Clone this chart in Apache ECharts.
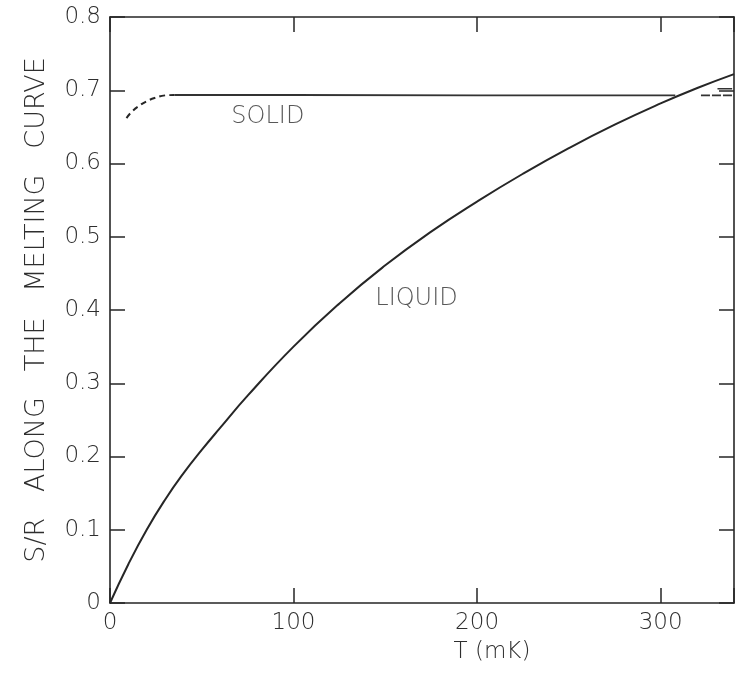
<!DOCTYPE html>
<html>
<head>
<meta charset="utf-8">
<script src="https://cdn.jsdelivr.net/npm/echarts/dist/echarts.min.js"></script>
<style>
  html, body { margin: 0; padding: 0; background: #ffffff; }
  #chart { width: 740px; height: 675px; }
</style>
</head>
<body>
<div id="chart"></div>
<script>
// Entropy of liquid and solid 3He along the melting curve, S/R vs T (mK)
const liquidT = [0, 10, 20, 30, 40, 50, 60, 75, 100, 125, 150, 175, 200, 225, 250, 275, 300, 320, 340];
const liquidS = [0, 0.053, 0.100, 0.141, 0.177, 0.209, 0.239, 0.283, 0.350, 0.409, 0.461, 0.507, 0.548, 0.586, 0.621, 0.653, 0.682, 0.703, 0.722];

// Solid: dashed low-temperature part, R ln2 plateau, dashed continuation past the crossing
const solidLowT = [9, 12, 16, 20, 25, 30, 35];
const solidLowS = [0.662, 0.671, 0.679, 0.685, 0.690, 0.693, 0.6935];
const solidMainT = [35, 100, 200, 308];
const solidMainS = [0.6935, 0.6935, 0.693, 0.693];
const solidHighT = [322, 340];
const solidHighS = [0.693, 0.693];
const ln2MarkT = [331, 339];
const ln2MarkS = [0.702, 0.702];

// Curve labels
const labelNames = ['SOLID', 'LIQUID'];
const labelT = [86, 167];
const labelS = [0.664, 0.415];

const xTitle = 'T (mK)';
const yTitle = 'S/R   ALONG   THE   MELTING   CURVE';

const pairs = (xs, ys) => xs.map((x, i) => [x, ys[i]]);

const FONT = '"DejaVu Sans", sans-serif';
const TXT = '#2e2e2e';
const INK = '#262626';

const chart = echarts.init(document.getElementById('chart'), null, { renderer: 'canvas' });

const boxAxisLine = { show: true, onZero: false, lineStyle: { color: INK, width: 1.6 } };
const boxTick = { show: true, inside: true, length: 15, lineStyle: { color: INK, width: 1.5 } };

chart.setOption({
  animation: false,
  backgroundColor: '#ffffff',
  grid: { left: 110, right: 6, top: 17, bottom: 72 },
  xAxis: [
    {
      type: 'value', position: 'bottom', min: 0, max: 340, interval: 100,
      axisLine: boxAxisLine, axisTick: boxTick, splitLine: { show: false },
      axisLabel: {
        margin: 9, color: TXT, fontFamily: FONT, fontSize: 23, fontWeight: 300,
        formatter: v => (v % 100 === 0 ? String(v) : '')
      },
      name: xTitle, nameLocation: 'middle', nameGap: 38,
      nameTextStyle: { color: TXT, fontFamily: FONT, fontSize: 23, fontWeight: 300, padding: [0, 0, 0, 140] }
    },
    {
      type: 'value', position: 'top', min: 0, max: 340, interval: 100,
      axisLine: boxAxisLine, axisTick: boxTick, splitLine: { show: false },
      axisLabel: { show: false }
    }
  ],
  yAxis: [
    {
      type: 'value', position: 'left', min: 0, max: 0.8, interval: 0.1,
      axisLine: boxAxisLine, axisTick: boxTick, splitLine: { show: false },
      axisLabel: {
        margin: 9, color: TXT, fontFamily: FONT, fontSize: 23, fontWeight: 300,
        formatter: v => (v === 0 ? '0' : v.toFixed(1))
      },
      name: yTitle, nameLocation: 'middle', nameGap: 60, nameRotate: 90,
      nameTextStyle: { color: TXT, fontFamily: FONT, fontSize: 27, fontWeight: 300 }
    },
    {
      type: 'value', position: 'right', min: 0, max: 0.8, interval: 0.1,
      axisLine: boxAxisLine, axisTick: boxTick, splitLine: { show: false },
      axisLabel: { show: false }
    }
  ],
  series: [
    {
      name: 'Liquid', type: 'line', data: pairs(liquidT, liquidS),
      smooth: true, showSymbol: false, silent: true,
      lineStyle: { color: INK, width: 2 }
    },
    {
      name: 'Solid (low T)', type: 'line', data: pairs(solidLowT, solidLowS),
      smooth: true, showSymbol: false, silent: true,
      lineStyle: { color: INK, width: 2, type: [6, 4] }
    },
    {
      name: 'Solid', type: 'line', data: pairs(solidMainT, solidMainS),
      showSymbol: false, silent: true,
      lineStyle: { color: '#333333', width: 1.8 }
    },
    {
      name: 'Solid (above crossing)', type: 'line', data: pairs(solidHighT, solidHighS),
      showSymbol: false, silent: true,
      lineStyle: { color: '#333333', width: 1.8, type: [9, 2] }
    },
    {
      name: 'ln2 mark', type: 'line', data: pairs(ln2MarkT, ln2MarkS),
      showSymbol: false, silent: true,
      lineStyle: { color: '#333333', width: 1.5 }
    },
    {
      name: 'Labels', type: 'scatter', silent: true, symbolSize: 1,
      itemStyle: { color: 'rgba(0,0,0,0)' },
      data: labelNames.map((n, i) => ({ name: n, value: [labelT[i], labelS[i]] })),
      label: {
        show: true, position: 'inside', formatter: '{b}',
        color: TXT, fontFamily: FONT, fontSize: 24, fontWeight: 300
      }
    }
  ]
});
</script>
</body>
</html>
